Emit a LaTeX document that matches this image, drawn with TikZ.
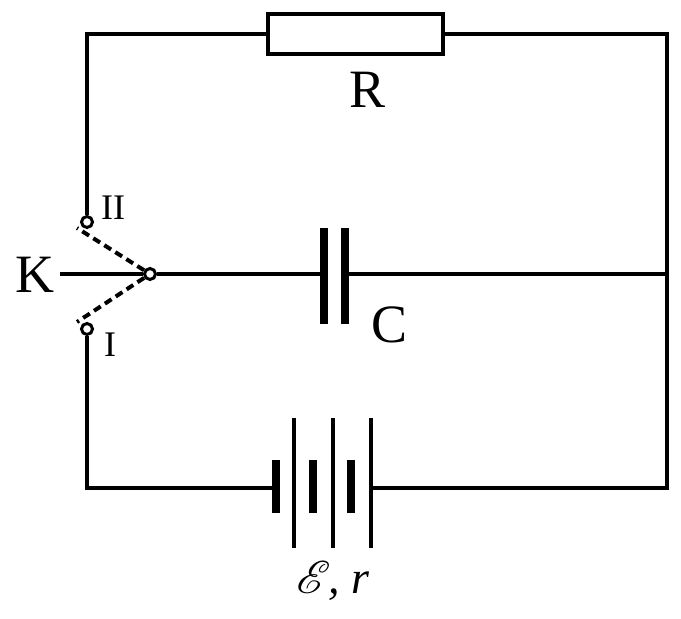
\documentclass[tikz,border=0pt]{standalone}
\usepackage{fontspec}
\setmainfont{Liberation Serif}
\usepackage{tikz}
\usetikzlibrary{calc}
\DeclareFontFamily{U}{rsfsany}{}
\DeclareFontShape{U}{rsfsany}{m}{n}{<-> rsfs10}{}
\DeclareMathAlphabet{\mathscrany}{U}{rsfsany}{m}{n}

\begin{document}
\begin{tikzpicture}[x=1pt, y=1pt,
	wire/.style={line width=4pt},
	plate/.style={line width=8pt},
	contact/.style={circle, draw, line width=3pt, fill=white, inner sep=0pt, minimum size=11pt},
	lbl/.style={font=\fontsize{54}{60}\selectfont},
	small/.style={font=\fontsize{36}{40}\selectfont}]

	\useasboundingbox (0,0) rectangle (681,619);

	% corners of the circuit
	\coordinate (TL) at (87,585);
	\coordinate (TR) at (667,585);
	\coordinate (BL) at (87,131);
	\coordinate (BR) at (667,131);
	\coordinate (CR) at (667,345);
	\coordinate (Kin) at (60,345);

	% resistor
	\node[draw, line width=4pt, minimum width=175pt, minimum height=40pt, inner sep=0pt] (R) at (355.5,585) {};
	\node[lbl] (Rlab) at (368,529) {R};

	% switch
	\node[contact] (II) at (87,397) {};
	\node[contact] (I) at (87,290) {};
	\node[contact] (P) at (150,345) {};
	\coordinate (IIend) at (77,391);
	\coordinate (Iend) at (77,297);
	\node[lbl] (Klab) at (35,344) {K};
	\node[small] (IIlab) at (113,411) {II};
	\node[small] (Ilab) at (110,274) {I};

	% capacitor
	\coordinate (C1) at (324,345);
	\coordinate (C2) at (345,345);
	\draw[plate] ($(C1)+(0,46)$) -- ($(C1)+(0,-50)$);
	\draw[plate] ($(C2)+(0,46)$) -- ($(C2)+(0,-50)$);
	\node[lbl] (Clab) at (390,294) {C};

	% battery
	\coordinate (B1) at (272,131);
	\coordinate (B2) at (371,131);
	\foreach \x in {276,313,351}
		\draw[plate] (\x,159) -- (\x,106);
	\foreach \x in {294,333,371}
		\draw[wire] (\x,201) -- (\x,71);
	\node[font=\fontsize{46}{50}\selectfont] (Elab) at (333,38) {$\mathscrany{E}$\kern-2pt\textit{, r}};

	% wires
	\draw[wire] (II) -- (TL) -- (R.west);
	\draw[wire] (R.east) -- (TR) -- (BR) -- (B2);
	\draw[wire] (I) -- (BL) -- (B1);
	\draw[wire] (Kin) -- (P);
	\draw[wire] (P) -- ($(C1)+(-4,0)$);
	\draw[wire] ($(C2)+(4,0)$) -- (CR);
	\draw[wire, dash pattern=on 8pt off 5pt] (P) -- (IIend);
	\draw[wire, dash pattern=on 8pt off 5pt] (P) -- (Iend);

\end{tikzpicture}
\end{document}
